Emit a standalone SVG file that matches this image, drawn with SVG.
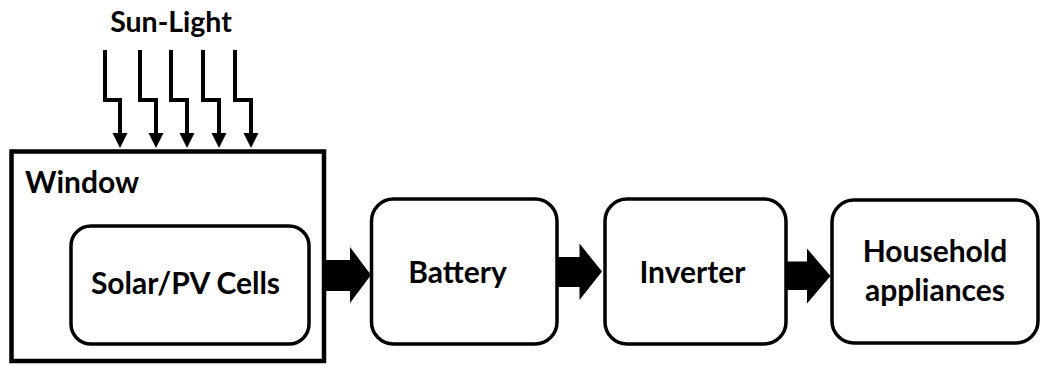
<svg xmlns="http://www.w3.org/2000/svg" width="1041" height="365" viewBox="0 0 1041 365">
  <style>
    .lbl { font-family: Lato, "Liberation Sans", sans-serif; font-weight: bold; font-size: 30px; fill: #000; }
    .box { fill: #fff; stroke: #000; stroke-width: 3.5; }
    .ray { fill: none; stroke: #000; stroke-width: 4; stroke-linejoin: miter; }
    .head { fill: #000; }
  </style>
  <rect width="1041" height="365" fill="#fff"/>

  <g id="sunlight">
    <text class="lbl" x="171" y="32" text-anchor="middle" style="font-size:28.5px">Sun-Light</text>
  </g>

  <g id="window">
    <rect x="11.5" y="151.5" width="312.5" height="209.5" fill="#fff" stroke="#000" stroke-width="4.5"/>
    <text class="lbl" x="25" y="193">Window</text>
  </g>

  <g id="solar">
    <rect class="box" x="71" y="226" width="238" height="118" rx="20"/>
    <text class="lbl" x="185.5" y="294" text-anchor="middle">Solar/PV Cells</text>
  </g>

  <g id="battery">
    <rect class="box" x="371.5" y="199" width="185.5" height="145" rx="22"/>
    <text class="lbl" x="457.5" y="283" text-anchor="middle">Battery</text>
  </g>

  <g id="inverter">
    <rect class="box" x="605" y="199" width="181" height="145" rx="22"/>
    <text class="lbl" x="692.5" y="283" text-anchor="middle">Inverter</text>
  </g>

  <g id="household">
    <rect class="box" x="832" y="200" width="206" height="143" rx="22"/>
    <text class="lbl" x="935" y="262" text-anchor="middle">Household</text>
    <text class="lbl" x="935" y="301" text-anchor="middle">appliances</text>
  </g>

  <g id="connectors">
    <path class="ray" d="M105 50 V100 H120 V134"/>
    <polygon class="head" points="112.5,133 127.5,133 120,148"/>
    <path class="ray" d="M140 50 V100 H156 V134"/>
    <polygon class="head" points="148.5,133 163.5,133 156,148"/>
    <path class="ray" d="M171 50 V100 H187 V134"/>
    <polygon class="head" points="179.5,133 194.5,133 187,148"/>
    <path class="ray" d="M203 50 V100 H219 V134"/>
    <polygon class="head" points="211.5,133 226.5,133 219,148"/>
    <path class="ray" d="M235 50 V100 H251 V134"/>
    <polygon class="head" points="243.5,133 258.5,133 251,148"/>

    <polygon class="head" points="324,260 350,260 350,247 371,275 350,303 350,291 324,291"/>
    <polygon class="head" points="557,257 579.5,257 579.5,243.5 602,271.5 579.5,300 579.5,287 557,287"/>
    <polygon class="head" points="786,261.5 807,261.5 807,248.5 830.5,276 807,303.5 807,290 786,290"/>
  </g>
</svg>
